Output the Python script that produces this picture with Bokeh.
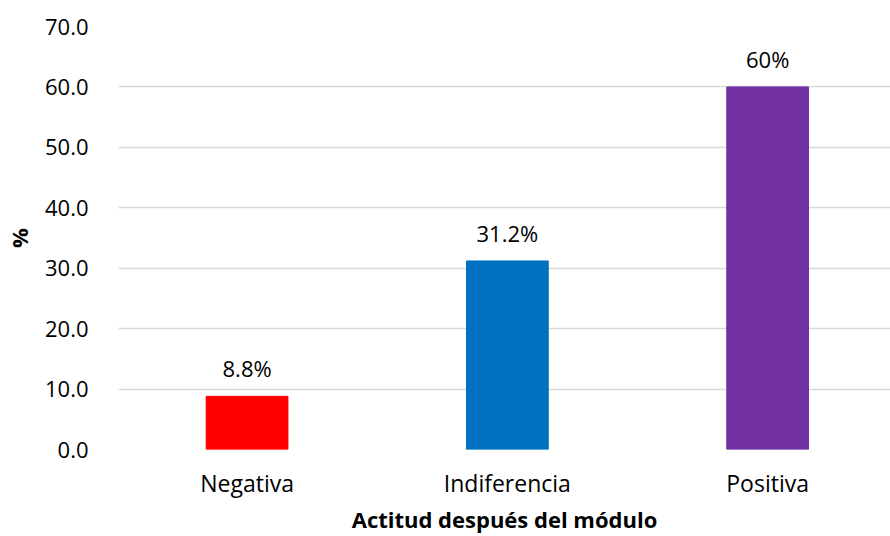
from bokeh.plotting import figure
from bokeh.models import ColumnDataSource, Range1d, FixedTicker, NumeralTickFormatter
from bokeh.embed import file_html
from bokeh.resources import INLINE
from bokeh.core.properties import value

categories = ["Negativa", "Indiferencia", "Positiva"]
values = [8.8, 31.2, 60.0]
labels = ["8.8%", "31.2%", "60%"]
colors = ["#FF0000", "#0070C0", "#7030A0"]
y_ticks = [0, 10, 20, 30, 40, 50, 60, 70]

FONT = "Open Sans"

xs = list(range(len(categories)))
src = ColumnDataSource(dict(x=xs, top=values, label=labels, color=colors))

p = figure(width=890, height=536, output_backend="svg", toolbar_location=None,
           x_range=Range1d(-0.494, 2.472), y_range=Range1d(0, 70),
           min_border_left=116, min_border_right=0, min_border_top=26, min_border_bottom=87)
p.outline_line_color = None
p.background_fill_color = "white"
p.border_fill_color = "white"

p.vbar(x="x", top="top", bottom=0, width=0.314, color="color", source=src)
p.text(x="x", y="top", text="label", source=src, text_align="center", text_baseline="bottom",
       y_offset=-13, text_font=value(FONT), text_font_size="22px", text_color="#000000")

p.xgrid.grid_line_color = None
p.ygrid.grid_line_color = "#D9D9D9"
p.ygrid.grid_line_width = 1.3
p.ygrid.ticker = FixedTicker(ticks=y_ticks)

p.yaxis.ticker = FixedTicker(ticks=y_ticks)
p.yaxis.formatter = NumeralTickFormatter(format="0.0")
p.yaxis.axis_line_color = None
p.yaxis.major_tick_line_color = None
p.yaxis.minor_tick_line_color = None
p.yaxis.major_label_standoff = 24
p.yaxis.axis_label = "%"
p.yaxis.axis_label_standoff = 8

p.xaxis.ticker = FixedTicker(ticks=xs)
p.xaxis.major_label_overrides = {i: c for i, c in enumerate(categories)}
p.xaxis.axis_line_color = None
p.xaxis.major_tick_line_color = None
p.xaxis.minor_tick_line_color = None
p.xaxis.major_label_standoff = 11
p.xaxis.axis_label = "Actitud después del módulo"
p.xaxis.axis_label_standoff = 2

for ax in (p.xaxis, p.yaxis):
    ax.major_label_text_font = FONT
    ax.major_label_text_font_size = "22px"
    ax.major_label_text_color = "#000000"
    ax.axis_label_text_font = FONT
    ax.axis_label_text_font_size = "22px"
    ax.axis_label_text_font_style = "bold"
    ax.axis_label_text_color = "#000000"
p.xaxis.major_label_text_font_size = "23px"

open("out.html", "w").write(file_html(p, INLINE))
